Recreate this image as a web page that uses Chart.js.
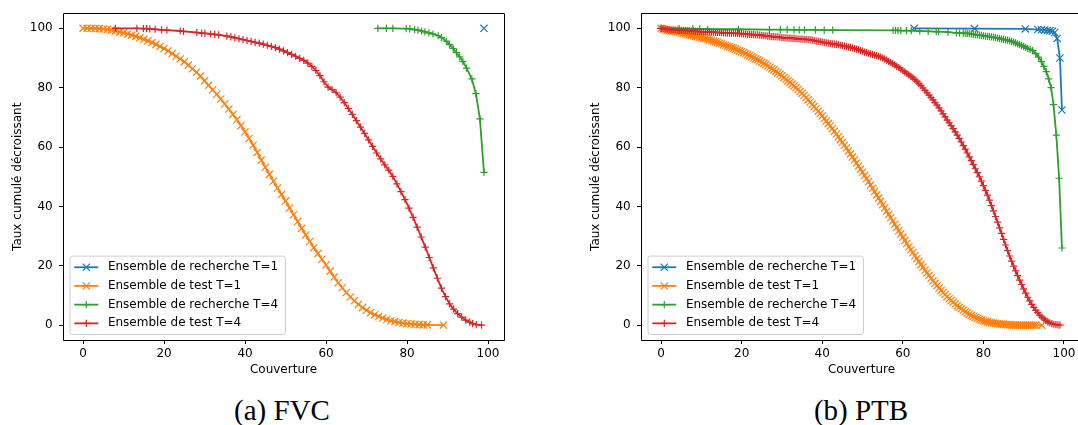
<!DOCTYPE html>
<html>
<head>
<meta charset="utf-8">
<script src="https://cdn.jsdelivr.net/npm/chart.js@4.4.1/dist/chart.umd.min.js"></script>
<style>
html, body { margin: 0; padding: 0; background: #fff; overflow: hidden; width: 1078px; height: 425px; }
#wrap { position: relative; width: 1078px; height: 425px; overflow: hidden; }
#wrap canvas { position: absolute; top: 0; }
.cap { position: absolute; width: 300px; font-family: "Liberation Serif", serif; font-size: 29px; line-height: 29px; color: #000; text-align: center; white-space: nowrap; }
</style>
</head>
<body>
<div id="wrap">
  <canvas id="c1" width="540" height="385" style="left:0px"></canvas>
  <canvas id="c2" width="560" height="385" style="left:540px"></canvas>
  <div class="cap" id="cap1" style="left:132px; top:396px"></div>
  <div class="cap" id="cap2" style="left:711px; top:396px"></div>
</div>
<script>
// ---------------- DATA ----------------
const seriesLabels = ['Ensemble de recherche T=1', 'Ensemble de test T=1', 'Ensemble de recherche T=4', 'Ensemble de test T=4'];
const xTickValues = [0, 20, 40, 60, 80, 100];
const yTickValues = [0, 20, 40, 60, 80, 100];
const xAxisTitle = 'Couverture';
const yAxisTitle = 'Taux cumulé décroissant';
const panelCaptions = ['(a) FVC', '(b) PTB'];

// FVC panel : [couverture, taux]
const fvcRechercheT1 = [[99, 100]];
const fvcTestT1 = [
  [0,100],[1,100],[2,100],[3,99.9],[4,99.9],[5,99.8],[6,99.6],[7,99.4],[8,99.1],[9,98.8],
  [10,98.5],[11,98.1],[12,97.7],[13,97.3],[14,96.8],[15,96.3],[16,95.8],[17,95.2],[18,94.6],[19,93.9],
  [20,93.2],[21,92.4],[22,91.5],[23,90.6],[24,89.7],[25,88.7],[26,87.6],[27,86.4],[28,85.2],[29,83.9],
  [30,82.3],[31,80.8],[32,79.3],[33,77.8],[34,76.2],[35,74.5],[36,72.8],[37,71],[38,69.2],[39,67.2],
  [40,65.1],[41,62.9],[42,60.6],[43,58.2],[44,55.6],[45,53.2],[46,50.8],[47,48.5],[48,46.2],[49,44],
  [50,41.8],[51,39.5],[52,37.2],[53,34.9],[54,32.6],[55,30.4],[56,28.2],[57,26.1],[58,24.1],[59,22.2],
  [60,20.3],[61,18.2],[62,16.2],[63,14.3],[64,12.6],[65,11],[66,9.5],[67,8.2],[68,7],[69,5.9],
  [70,5],[71,4.2],[72,3.5],[73,2.9],[74,2.4],[75,1.9],[76,1.5],[77,1.2],[78,0.9],[79,0.7],
  [80,0.5],[81,0.4],[82,0.3],[83,0.2],[84,0.1],[85,0.1],[89,0]
];
const fvcRechercheT4 = [
  [72.8,100],[74.9,100],[76.5,100],[79.8,99.9],[80.7,99.8],[81.9,99.6],[82.7,99.4],[83.6,99.1],
  [84.4,98.8],[85.4,98.5],[86.4,98.1],[87.7,97.5],[88.5,96.9],[89.7,95.7],[90.5,94.5],[91.4,93.2],
  [92.2,91.8],[93,90.4],[93.8,88.8],[94.7,86.6],[96,83],[97,78],[98,69.5],[99,51.5]
];
const fvcTestT4 = [
  [8,100],[13.3,100],[14.9,99.9],[15.7,99.9],[16.5,99.8],[17.8,99.7],[19.4,99.5],[20.7,99.4],[24,99.1],[24.8,99],
  [28.1,98.6],[29.3,98.4],[30.1,98.3],[31.5,98.1],[32.5,98],[33.5,97.8],
  [35.5,97.4],[36.5,97.1],[37.5,96.8],[38.5,96.5],[39.5,96.2],[40.5,95.9],[41.5,95.6],[42.5,95.3],[43.5,95],[44.5,94.7],
  [45.5,94.3],[46.5,93.9],[47.5,93.5],[48.5,93],[49.5,92.4],[50.5,91.8],[51.5,91.2],[52.5,90.6],[53.5,89.9],[54.5,89.2],
  [55.5,88.3],[56.5,87.2],[57.5,85.8],[58.5,84.1],[59.5,82],[60.5,80.2],[61.5,79.4],[62.5,78.3],[63.5,76.8],[64.5,75],
  [65.5,73],[66.5,71],[67.5,68.9],[68.5,66.7],[69.5,64.6],[70.5,62.4],[71.5,60.2],[72.5,58],[73.5,56],[74.5,54],
  [75.5,52.2],[76.5,50.1],[77.5,47.6],[78.5,45],[79.5,42.3],[80.5,39.4],[81.5,36.3],[82.5,33],[83.5,29.7],[84.5,26.3],
  [85.5,22.8],[86.5,19.3],[87.5,15.8],[88.5,12.5],[89.5,9.6],[90.5,7.2],[91.5,5.4],[92.5,3.9],[93.5,2.7],[94.5,1.7],
  [95.5,1],[96.2,0.5],[97.1,0.2],[98.4,0]
];

// PTB panel : [couverture, taux]
const ptbRechercheT1 = [
  [62.8,100],[77.8,99.9],[90.4,99.8],[93.5,99.6],[94.4,99.5],[95.2,99.4],[95.9,99.3],
  [96.5,99.2],[97.1,99],[97.7,98.6],[98.3,96.6],[99,90],[99.5,72.5]
];
const ptbTestT1 = [
  [0,100],[0.5,99.7],[1,99.5],[1.5,99.3],[2,99.2],[2.5,99.1],[3,99],[3.5,98.9],[4,98.8],[4.5,98.6],
  [5,98.5],[5.5,98.3],[6,98.1],[6.5,98],[7,97.8],[7.5,97.6],[8,97.5],[8.5,97.3],[9,97.2],[9.5,97],
  [10,96.9],[10.5,96.7],[11,96.5],[11.5,96.3],[12,96.1],[12.5,95.9],[13,95.7],[13.5,95.5],[14,95.3],[14.5,95],
  [15,94.8],[15.5,94.5],[16,94.3],[16.5,94],[17,93.8],[17.5,93.5],[18,93.3],[18.5,93],[19,92.7],[19.5,92.4],
  [20,92.1],[20.5,91.8],[21,91.5],[21.5,91.1],[22,90.8],[22.5,90.4],[23,90.1],[23.5,89.7],[24,89.4],[24.5,89],
  [25,88.6],[25.5,88.2],[26,87.8],[26.5,87.3],[27,86.9],[27.5,86.4],[28,86],[28.5,85.5],[29,85],[29.5,84.5],
  [30,84],[30.5,83.4],[31,82.9],[31.5,82.3],[32,81.8],[32.5,81.2],[33,80.6],[33.5,80],[34,79.4],[34.5,78.7],
  [35,78.1],[35.5,77.4],[36,76.7],[36.5,75.9],[37,75.2],[37.5,74.4],[38,73.7],[38.5,72.9],[39,72.1],[39.5,71.3],
  [40,70.5],[40.5,69.6],[41,68.8],[41.5,67.9],[42,67.1],[42.5,66.2],[43,65.3],[43.5,64.4],[44,63.5],[44.5,62.5],
  [45,61.6],[45.5,60.6],[46,59.7],[46.5,58.7],[47,57.7],[47.5,56.7],[48,55.7],[48.5,54.6],[49,53.6],[49.5,52.5],
  [50,51.5],[50.5,50.4],[51,49.4],[51.5,48.3],[52,47.2],[52.5,46.1],[53,45],[53.5,43.9],[54,42.8],[54.5,41.7],
  [55,40.6],[55.5,39.5],[56,38.4],[56.5,37.3],[57,36.2],[57.5,35.1],[58,34],[58.5,32.9],[59,31.8],[59.5,30.7],
  [60,29.6],[60.5,28.5],[61,27.5],[61.5,26.4],[62,25.4],[62.5,24.4],[63,23.4],[63.5,22.4],[64,21.4],[64.5,20.4],
  [65,19.5],[65.5,18.5],[66,17.6],[66.5,16.7],[67,15.8],[67.5,14.9],[68,14.1],[68.5,13.3],[69,12.5],[69.5,11.7],
  [70,11],[70.5,10.3],[71,9.6],[71.5,8.9],[72,8.3],[72.5,7.7],[73,7.1],[73.5,6.5],[74,6],[74.5,5.5],
  [75,5],[75.5,4.5],[76,4.1],[76.5,3.7],[77,3.3],[77.5,2.9],[78,2.6],[78.5,2.3],[79,2],[79.5,1.7],
  [80,1.5],[80.5,1.3],[81,1.1],[81.5,0.9],[82,0.8],[82.5,0.7],[83,0.6],[83.5,0.5],[84,0.4],[84.5,0.3],
  [85,0.3],[85.5,0.2],[86,0.2],[86.5,0.1],[87,0.1],[87.5,0.1],[88,0.1],[88.5,0],[89,0],[89.5,0],
  [90,0],[90.5,0],[91,0],[91.5,0],[92,0],[92.5,0],[93,0],[94.5,0]
];
const ptbRechercheT4 = [
  [0,100],[4.5,99.9],[7.9,99.8],[9.6,99.8],[11.6,99.7],[19.2,99.7],[26.9,99.6],[29.6,99.6],[31.3,99.6],[33,99.5],
  [34.3,99.5],[35.6,99.5],[38.3,99.5],[40.5,99.4],[42.6,99.4],[57.6,99.3],[58.2,99.3],[58.8,99.3],[59.5,99.2],[60.9,99.2],
  [62.1,99.2],[64.2,99.1],[66.3,99],[68.3,98.9],[68.9,98.9],[71.2,98.7],[73.3,98.5],[74.1,98.4],[75,98.4],[75.5,98.3],
  [76,98.3],[76.5,98.2],[77,98.1],[77.5,98],[78,97.9],[78.5,97.8],[79,97.7],[79.5,97.6],[80,97.5],[80.5,97.4],
  [81,97.3],[81.5,97.2],[82,97.1],[82.5,97],[83,96.9],[83.5,96.7],[84,96.6],[84.5,96.4],[85,96.3],[85.5,96.1],
  [86,96],[86.5,95.8],[87,95.6],[87.5,95.4],[88,95.1],[88.5,94.8],[89,94.5],[89.5,94.2],[90,93.9],[90.5,93.6],
  [91,93.2],[91.6,92.9],[92.2,92.5],[93,91.5],[93.7,90.3],[94.4,88.8],[95,87.2],[95.6,85.4],[96.2,83],[96.8,80],
  [97.4,74.3],[98.1,64],[98.8,49.5],[99.5,26]
];
const ptbTestT4 = [
  [0,100],[0.5,99.9],[1,99.8],[1.5,99.7],[2,99.6],[2.5,99.5],[3,99.5],[3.5,99.4],[4,99.4],[4.5,99.3],
  [5,99.3],[5.5,99.3],[6,99.3],[6.5,99.2],[7,99.2],[7.5,99.1],[8,99.1],[8.5,99],[9,99],[9.5,98.9],
  [10,98.9],[10.5,98.8],[11,98.8],[11.5,98.8],[12,98.8],[12.5,98.7],[13,98.7],[13.5,98.6],[14,98.6],[14.5,98.6],
  [15,98.6],[15.5,98.5],[16,98.5],[16.5,98.4],[17,98.4],[17.5,98.4],[18,98.4],[18.5,98.3],[19,98.3],[19.5,98.2],
  [20,98.2],[20.5,98.1],[21,98.1],[21.5,98],[22,98],[22.5,97.9],[23,97.9],[23.5,97.8],[24,97.8],[24.5,97.7],
  [25,97.6],[25.5,97.5],[26,97.5],[26.5,97.4],[27,97.3],[27.5,97.2],[28,97.2],[28.5,97.1],[29,97.1],[29.5,97],
  [30,96.9],[30.5,96.8],[31,96.8],[31.5,96.7],[32,96.7],[32.5,96.6],[33,96.6],[33.5,96.5],[34,96.5],[34.5,96.4],
  [35,96.4],[35.5,96.3],[36,96.3],[36.5,96.2],[37,96.1],[37.5,96],[38,95.9],[38.5,95.7],[39,95.6],[39.5,95.5],
  [40,95.4],[40.5,95.2],[41,95.1],[41.5,95],[42,94.9],[42.5,94.8],[43,94.7],[43.5,94.6],[44,94.5],[44.5,94.3],
  [45,94.2],[45.5,94],[46,93.9],[46.5,93.7],[47,93.6],[47.5,93.4],[48,93.2],[48.5,93],[49,92.8],[49.5,92.5],
  [50,92.3],[50.5,92],[51,91.8],[51.5,91.6],[52,91.4],[52.5,91.2],[53,91],[53.5,90.8],[54,90.6],[54.5,90.3],
  [55,90],[55.5,89.7],[56,89.3],[56.5,88.9],[57,88.5],[57.5,88.1],[58,87.7],[58.5,87.2],[59,86.8],[59.5,86.3],
  [60,85.8],[60.5,85.3],[61,84.8],[61.5,84.3],[62,83.8],[62.5,83.3],[63,82.7],[63.5,82.1],[64,81.4],[64.5,80.7],
  [65,79.9],[65.5,79.1],[66,78.3],[66.5,77.5],[67,76.7],[67.5,75.9],[68,75],[68.5,74.1],[69,73.2],[69.5,72.2],
  [70,71.2],[70.5,70.2],[71,69.1],[71.5,68.2],[72,67.2],[72.5,66.2],[73,65.1],[73.5,64],[74,62.9],[74.5,61.7],
  [75,60.5],[75.5,59.3],[76,58],[76.5,56.7],[77,55.4],[77.5,54.1],[78,52.7],[78.5,51.4],[79,50],[79.5,48.5],
  [80,47],[80.5,45.4],[81,43.8],[81.5,42.1],[82,40.3],[82.5,38.5],[83,36.6],[83.5,34.7],[84,32.8],[84.5,30.9],
  [85,28.9],[85.5,27],[86,25.1],[86.5,23.3],[87,21.6],[87.5,19.9],[88,18.3],[88.5,16.7],[89,15.2],[89.5,13.7],
  [90,12.2],[90.5,10.8],[91,9.4],[91.5,8.2],[92,7],[92.5,6],[93,5],[93.5,4.2],[94,3.4],[94.5,2.7],
  [95,2.1],[95.5,1.6],[96,1.1],[96.5,0.8],[97,0.5],[97.5,0.3],[98,0.2],[98.5,0.1],[99,0]
];

// ---------------- STYLE ----------------
const seriesColors = ['#1f77b4', '#ff7f0e', '#2ca02c', '#d62728'];
const seriesMarkers = ['crossRot', 'crossRot', 'cross', 'cross'];
const FONT = '"DejaVu Sans", sans-serif';
const FS = 12;
const MARK_SPAN = 7.2;
const MARK_W = 1.2;
const LINE_W = 1.8;

document.getElementById('cap1').textContent = panelCaptions[0];
document.getElementById('cap2').textContent = panelCaptions[1];

function drawMarker(ctx, style, x, y, color) {
  const h = MARK_SPAN / 2;
  ctx.save();
  ctx.strokeStyle = color;
  ctx.lineWidth = MARK_W;
  ctx.beginPath();
  if (style === 'crossRot') {
    ctx.moveTo(x - h, y - h); ctx.lineTo(x + h, y + h);
    ctx.moveTo(x - h, y + h); ctx.lineTo(x + h, y - h);
  } else {
    ctx.moveTo(x - h, y); ctx.lineTo(x + h, y);
    ctx.moveTo(x, y - h); ctx.lineTo(x, y + h);
  }
  ctx.stroke();
  ctx.restore();
}

const frameBox = {
  id: 'frameBox',
  afterDatasetsDraw(chart) {
    const { ctx, chartArea: ca } = chart;
    ctx.save();
    ctx.strokeStyle = '#000';
    ctx.lineWidth = 1;
    ctx.beginPath();
    ctx.rect(Math.round(ca.left) + 0.5, Math.round(ca.top) - 0.5, Math.round(ca.right) - Math.round(ca.left), Math.round(ca.bottom) - Math.round(ca.top) + 1);
    ctx.stroke();
    ctx.restore();
  }
};

const mplLegend = {
  id: 'mplLegend',
  afterDraw(chart) {
    const { ctx, chartArea: ca } = chart;
    const ds = chart.data.datasets;
    ctx.save();
    ctx.font = FS + 'px ' + FONT;
    const tw = Math.max(...ds.map(d => ctx.measureText(d.label).width));
    const pad = 0.4 * FS, hl = 2 * FS, htp = 0.8 * FS, th = 12.7, ls = 0.5 * FS;
    const w = pad + hl + htp + tw + pad + 2;
    const h = 2 * pad + ds.length * th + (ds.length - 1) * ls;
    const left = ca.left + 6.5, top = ca.bottom - 6 - h;
    ctx.beginPath();
    ctx.roundRect(left + 0.5, top + 0.5, w, h, 2.5);
    ctx.fillStyle = 'rgba(255,255,255,0.8)';
    ctx.fill();
    ctx.strokeStyle = '#cccccc';
    ctx.lineWidth = 1;
    ctx.stroke();
    ds.forEach((d, i) => {
      const cy = top + pad + th / 2 + i * (th + ls) + 0.5;
      const hx = left + pad;
      ctx.beginPath();
      ctx.strokeStyle = d.borderColor;
      ctx.lineWidth = LINE_W;
      ctx.moveTo(hx, cy); ctx.lineTo(hx + hl, cy);
      ctx.stroke();
      drawMarker(ctx, d.pointStyle, hx + hl / 2, cy, d.borderColor);
      ctx.fillStyle = '#000';
      ctx.textBaseline = 'middle';
      ctx.textAlign = 'left';
      ctx.fillText(d.label, hx + hl + htp, cy);
    });
    ctx.restore();
  }
};

function makeDatasets(seriesList) {
  return seriesList.map((pts, i) => ({
    label: seriesLabels[i],
    data: pts.map(p => ({ x: p[0], y: p[1] })),
    showLine: true,
    borderColor: seriesColors[i],
    backgroundColor: seriesColors[i],
    borderWidth: LINE_W,
    pointStyle: seriesMarkers[i],
    pointRadius: seriesMarkers[i] === 'crossRot' ? MARK_SPAN / Math.SQRT2 : MARK_SPAN / 2,
    pointBorderWidth: MARK_W,
    pointBorderColor: seriesColors[i],
    pointBackgroundColor: seriesColors[i],
    pointHoverRadius: 0,
    tension: 0,
    fill: false,
    order: seriesList.length - i
  }));
}

function makeChart(id, seriesList, xmin, xmax, padLeft, padRight) {
  const tickFont = { family: FONT, size: FS };
  return new Chart(document.getElementById(id), {
    type: 'scatter',
    data: { datasets: makeDatasets(seriesList) },
    options: {
      responsive: false,
      animation: false,
      devicePixelRatio: 1,
      events: [],
      layout: { padding: { left: padLeft, right: padRight, top: 13, bottom: 5 } },
      plugins: { legend: { display: false }, tooltip: { enabled: false } },
      scales: {
        x: {
          type: 'linear', position: 'bottom', min: xmin, max: xmax,
          afterBuildTicks: s => { s.ticks = xTickValues.map(v => ({ value: v })); },
          afterFit: s => { s.height = 40; },
          ticks: { font: tickFont, color: '#000', padding: 3, maxRotation: 0, minRotation: 0, autoSkip: false },
          grid: { display: true, drawOnChartArea: false, drawTicks: true, tickLength: 4, tickWidth: 1, tickColor: '#000' },
          border: { display: false },
          title: { display: true, text: xAxisTitle, font: tickFont, color: '#000', padding: { top: 0, bottom: 2.8 } }
        },
        y: {
          type: 'linear', position: 'left', min: -5, max: 105,
          afterBuildTicks: s => { s.ticks = yTickValues.map(v => ({ value: v })); },
          afterFit: s => { s.width = 63; },
          ticks: { font: tickFont, color: '#000', padding: 6.3, autoSkip: false },
          grid: { display: true, drawOnChartArea: false, drawTicks: true, tickLength: 4, tickWidth: 1, tickColor: '#000' },
          border: { display: false },
          title: { display: true, text: yAxisTitle, font: tickFont, color: '#000', padding: { top: 10.7, bottom: 0 } }
        }
      }
    },
    plugins: [frameBox, mplLegend]
  });
}

makeChart('c1', [fvcRechercheT1, fvcTestT1, fvcRechercheT4, fvcTestT4], -4.95, 103.95, 0, 36);
makeChart('c2', [ptbRechercheT1, ptbTestT1, ptbRechercheT4, ptbTestT4], -4.975, 104.475, 38, 18);
</script>
</body>
</html>
